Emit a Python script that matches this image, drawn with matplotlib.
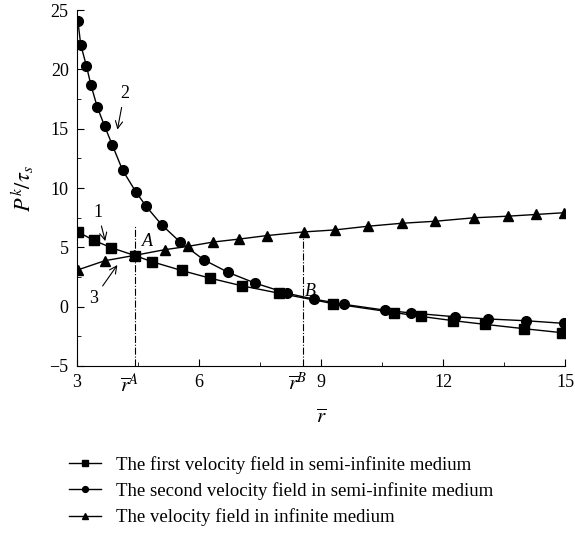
import numpy as np
import matplotlib.pyplot as plt
import matplotlib.transforms as mtransforms

plt.rcParams['font.family'] = ['Liberation Serif', 'DejaVu Serif']
plt.rcParams['mathtext.fontset'] = 'stix'

# series 1: first velocity field, semi-infinite medium (squares)
r1 = [3.02, 3.41, 3.84, 4.43, 4.84, 5.57, 6.27, 7.06, 7.97, 9.30, 10.80, 11.45,
      12.24, 13.02, 13.99, 14.93]
p1 = [6.3, 5.6, 4.97, 4.3, 3.79, 3.05, 2.4, 1.75, 1.13, 0.25, -0.5, -0.82,
      -1.18, -1.49, -1.86, -2.2]

# series 2: second velocity field, semi-infinite medium (circles)
r2 = [3.02, 3.09, 3.23, 3.34, 3.50, 3.68, 3.87, 4.12, 4.45, 4.70, 5.08, 5.53,
      6.11, 6.72, 7.38, 8.17, 8.83, 9.55, 10.58, 11.2, 12.28, 13.11, 14.04, 14.97]
p2 = [24.1, 22.1, 20.3, 18.7, 16.8, 15.2, 13.6, 11.5, 9.66, 8.45, 6.9, 5.46,
      3.96, 2.88, 1.98, 1.12, 0.63, 0.2, -0.3, -0.53, -0.85, -1.04, -1.19, -1.41]

# series 3: velocity field in infinite medium (triangles)
r3 = [3.02, 3.68, 4.41, 5.15, 5.72, 6.35, 6.99, 7.66, 8.57, 9.34, 10.15, 10.98,
      11.80, 12.75, 13.6, 14.27, 14.97]
p3 = [3.1, 3.87, 4.32, 4.8, 5.08, 5.45, 5.7, 5.99, 6.3, 6.47, 6.78, 7.03,
      7.2, 7.49, 7.63, 7.77, 7.92]

labels = ['The first velocity field in semi-infinite medium',
          'The second velocity field in semi-infinite medium',
          'The velocity field in infinite medium']

rA, pA = 4.43, 6.9
rB, pB = 8.56, 6.3

fig = plt.figure(figsize=(5.75, 5.35), dpi=100)
ax = fig.add_axes([0.134, 0.316, 0.849, 0.665])

l1, = ax.plot(r1, p1, '-s', color='black', lw=1, ms=6.5)
l2, = ax.plot(r2, p2, '-o', color='black', lw=1, ms=7)
l3, = ax.plot(r3, p3, '-^', color='black', lw=1, ms=7)

# dash-dot markers at A and B
ax.plot([rA, rA], [-5, pA], color='black', lw=0.8, ls='-.')
ax.plot([rB, rB], [-5, pB], color='black', lw=0.8, ls='-.')
ax.text(4.6, 5.1, 'A', fontsize=13, style='italic')
ax.text(8.6, 0.9, 'B', fontsize=13, style='italic')

# curve numbers
arrow = dict(arrowstyle='->', color='black', lw=0.8)
ax.annotate('1', xy=(3.71, 5.3), xytext=(3.4, 7.6), fontsize=13, arrowprops=arrow)
ax.annotate('2', xy=(3.98, 14.7), xytext=(4.05, 17.6), fontsize=13, arrowprops=arrow)
ax.annotate('3', xy=(4.03, 3.7), xytext=(3.3, 0.3), fontsize=13, arrowprops=arrow)

ax.set_xlim(3, 15)
ax.set_ylim(-5, 25)
ax.set_xticks([3, 6, 9, 12, 15])
ax.set_xticks([4.5, 7.5, 10.5, 13.5], minor=True)
ax.set_yticks([-5, 0, 5, 10, 15, 20, 25])
ax.set_yticks(np.arange(-2.5, 25, 5), minor=True)
ax.set_yticklabels(['\u22125', '0', '5', '10', '15', '20', '25'])
ax.tick_params(direction='in', labelsize=13, length=5, pad=6)
ax.tick_params(which='minor', direction='in', length=3)
ax.spines['top'].set_visible(False)
ax.spines['right'].set_visible(False)

trans = mtransforms.blended_transform_factory(ax.transData, ax.transAxes)
ax.text(rA - 0.15, -0.02, r'$\overline{r}^A$', transform=trans, ha='center', va='top', fontsize=15)
ax.text(rB - 0.15, -0.02, r'$\overline{r}^B$', transform=trans, ha='center', va='top', fontsize=15)

ax.set_xlabel(r'$\overline{r}$', fontsize=15, labelpad=13)
ax.set_ylabel(r'$P^k/\tau_s$', fontsize=16, labelpad=10)

fig.legend([l1, l2, l3], labels, loc='upper left', bbox_to_anchor=(0.12, 0.148),
           frameon=False, fontsize=13.5, markerscale=0.6, handlelength=1.7,
           handletextpad=0.8, labelspacing=0.45, borderpad=0, borderaxespad=0)

fig.savefig('out.png', dpi=100)
